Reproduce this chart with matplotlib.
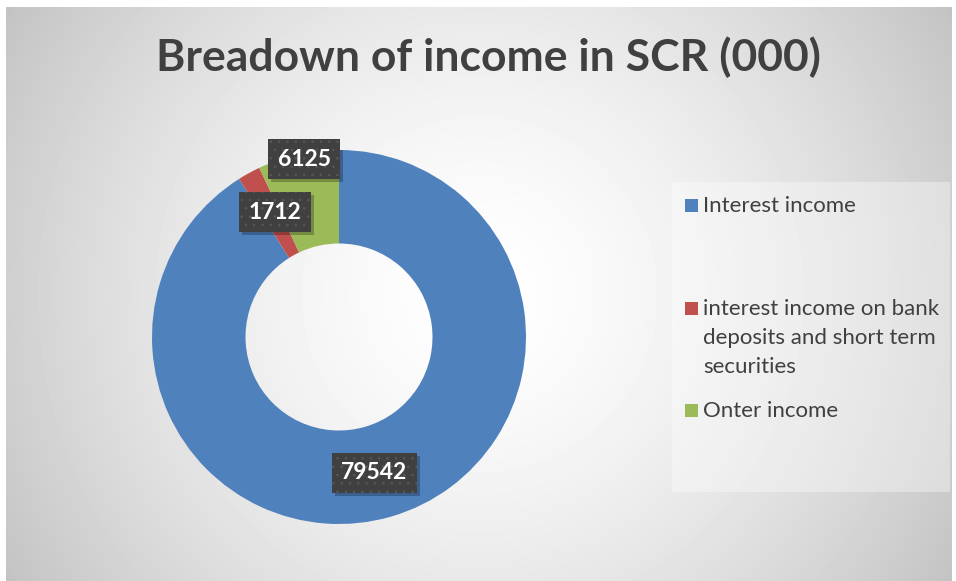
import numpy as np
import matplotlib.pyplot as plt
from matplotlib.patches import Rectangle

plt.rcParams["hatch.linewidth"] = 0.6

labels = ["Interest income",
          "interest income on bank\ndeposits and short term\nsecurities",
          "Onter income"]
values = [79542, 1712, 6125]
colors = ["#4F81BD", "#C0504D", "#9BBB59"]
# radial position of each data label (fraction of outer radius)
label_r = [0.75, 0.75, 0.97]

W, H = 956, 581
fig = plt.figure(figsize=(W / 100, H / 100), dpi=100)
fig.patch.set_facecolor("white")


def fx(x):
    return x / W


def fy(y):
    return 1 - y / H


# chart area with a soft radial gradient
bg = fig.add_axes([fx(6), fy(581), fx(952) - fx(6), fy(7) - fy(581)])
yy, xx = np.mgrid[0:574, 0:946]
r = np.hypot(xx - 473, yy - 287) / 560.0
shade = 1 - 0.24 * np.clip(r, 0, 1.1) ** 1.5
bg.imshow(shade, cmap="gray", vmin=0, vmax=1, aspect="auto",
          interpolation="bilinear")
bg.set_axis_off()

fig.text(fx(488), fy(57), "Breadown of income in SCR (000)",
         ha="center", va="center", fontsize=32, fontweight="bold",
         family="Lato", color="#404040")

# donut
R = 187
cx, cy = 339, 337
ax = fig.add_axes([fx(cx - R), fy(cy + R), 2 * R / W, 2 * R / H])
wedges, _ = ax.pie(values, colors=colors, startangle=90, counterclock=False,
                   radius=1.0, wedgeprops=dict(width=0.5, linewidth=0))
ax.set_xlim(-1, 1)
ax.set_ylim(-1, 1)
ax.set_aspect("equal")
ax.set_axis_off()

boxes = []
for w, v, rr in zip(wedges, values, label_r):
    mid = np.deg2rad((w.theta1 + w.theta2) / 2 - 1.5)
    t = ax.text(rr * np.cos(mid), rr * np.sin(mid), str(v),
                ha="center", va="center", fontsize=16.5, fontweight="bold",
                family="Lato", color="white", zorder=5,
                bbox=dict(boxstyle="square,pad=0.42", facecolor="#404040",
                          edgecolor="#575757", hatch="..", linewidth=0))
    boxes.append(t)

# drop shadows under the label boxes
fig.canvas.draw()
inv = fig.transFigure.inverted()
for t in boxes:
    ext = t.get_bbox_patch().get_window_extent()
    (x0, y0), (x1, y1) = inv.transform([[ext.x0 + 3, ext.y0 - 3],
                                        [ext.x1 + 3, ext.y1 - 3]])
    ax.add_patch(Rectangle((x0, y0), x1 - x0, y1 - y0,
                           transform=fig.transFigure, facecolor="black",
                           alpha=0.25, linewidth=0, zorder=4))

# legend
fig.patches.append(Rectangle((fx(672), fy(492)), fx(950) - fx(672),
                             fy(182) - fy(492), transform=fig.transFigure,
                             facecolor="white", alpha=0.35, linewidth=0))
leg_y = [205, 308, 410]
for lab, c, y in zip(labels, colors, leg_y):
    fig.patches.append(Rectangle((fx(685), fy(y + 7)), 13 / W, 13 / H,
                                 transform=fig.transFigure, facecolor=c,
                                 linewidth=0))
    fig.text(fx(703), fy(y - 9), lab, ha="left", va="top", fontsize=16,
             family="Lato", color="#404040", linespacing=1.55)

fig.savefig("out.png", dpi=100)
